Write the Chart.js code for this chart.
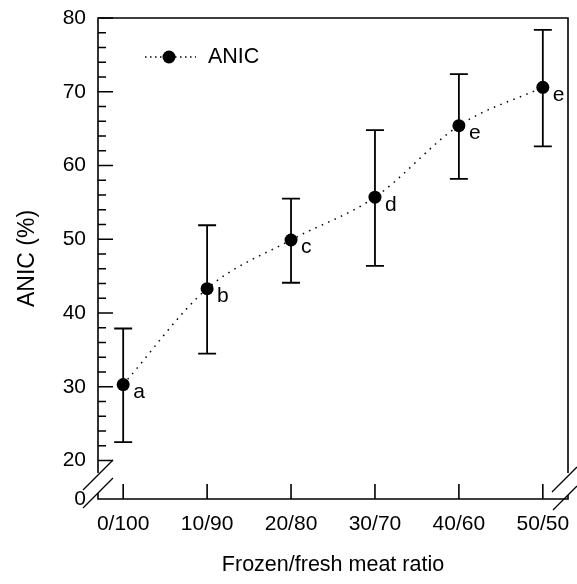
<!DOCTYPE html>
<html><head><meta charset="utf-8">
<script src="https://cdn.jsdelivr.net/npm/chart.js@4.4.0/dist/chart.umd.min.js"></script>
<style>html,body{margin:0;padding:0;background:#fff}#wrap{width:577px;height:584px}</style>
</head><body><div id="wrap"><canvas id="c" width="577" height="584"></canvas></div>
<script>
const categories = ['0/100','10/90','20/80','30/70','40/60','50/50'];
const anicMean = [30.3, 43.3, 49.9, 55.7, 65.4, 70.6];
const anicLow = [22.5, 34.5, 44.1, 46.4, 58.2, 62.6];
const anicHigh = [37.9, 51.9, 55.5, 64.8, 72.4, 78.4];
const groupLetters = ['a','b','c','d','e','e'];
const yTickLabels = [20,30,40,50,60,70,80];
const yMinorTicks = [22,24,26,28,32,34,36,38,42,44,46,48,52,54,56,58,62,64,66,68,72,74,76,78];
const yBreakLabel = '0';
const seriesName = 'ANIC';
const xTitle = 'Frozen/fresh meat ratio';
const yTitle = 'ANIC (%)';

const FONT = "'Liberation Sans', Arial, sans-serif";

const decor = {
  id: 'decor',
  beforeDatasetsDraw(chart) {
    const ctx = chart.ctx, xs = chart.scales.x, ys = chart.scales.y;
    ctx.save();
    ctx.strokeStyle = '#000';
    ctx.lineWidth = 1.8;
    ctx.lineCap = 'butt';
    anicMean.forEach((m, i) => {
      const px = xs.getPixelForValue(i);
      const yt = ys.getPixelForValue(anicHigh[i]);
      const yb = ys.getPixelForValue(anicLow[i]);
      ctx.beginPath();
      ctx.moveTo(px, yt); ctx.lineTo(px, yb);
      ctx.moveTo(px - 9, yt); ctx.lineTo(px + 9, yt);
      ctx.moveTo(px - 9, yb); ctx.lineTo(px + 9, yb);
      ctx.stroke();
    });
    ctx.restore();
  },
  afterDraw(chart) {
    const ctx = chart.ctx, xs = chart.scales.x, ys = chart.scales.y;
    const {left, right, top, bottom} = chart.chartArea;
    ctx.save();
    ctx.strokeStyle = '#000';
    ctx.lineWidth = 1.6;
    ctx.lineCap = 'butt';
    // frame
    ctx.beginPath();
    ctx.moveTo(left, 473); ctx.lineTo(left, top); ctx.lineTo(right, top); ctx.lineTo(right, 473);
    ctx.moveTo(left, 493); ctx.lineTo(left, bottom); ctx.lineTo(right, bottom); ctx.lineTo(right, 495);
    ctx.stroke();
    // y ticks
    ctx.beginPath();
    yTickLabels.forEach(v => { const y = ys.getPixelForValue(v); ctx.moveTo(left, y); ctx.lineTo(left + 15, y); });
    yMinorTicks.forEach(v => { const y = ys.getPixelForValue(v); ctx.moveTo(left, y); ctx.lineTo(left + 8, y); });
    // x ticks
    categories.forEach((c, i) => { const x = xs.getPixelForValue(i); ctx.moveTo(x, bottom); ctx.lineTo(x, bottom - 15); });
    ctx.stroke();
    // breaks
    ctx.lineWidth = 1.3;
    ctx.beginPath();
    ctx.moveTo(83, 490); ctx.lineTo(113, 460);
    ctx.moveTo(83, 508); ctx.lineTo(113, 478);
    ctx.moveTo(552, 492); ctx.lineTo(577, 467);
    ctx.moveTo(553, 510); ctx.lineTo(577, 486);
    ctx.stroke();
    // letters
    ctx.fillStyle = '#000';
    ctx.font = '21px ' + FONT;
    ctx.textAlign = 'left';
    ctx.textBaseline = 'alphabetic';
    groupLetters.forEach((t, i) => {
      const x = xs.getPixelForValue(i), y = ys.getPixelForValue(anicMean[i]);
      ctx.fillText(t, x + 10, y + 13.5);
    });
    // legend
    ctx.lineWidth = 1.5;
    ctx.setLineDash([1.5, 3.5]);
    ctx.beginPath();
    ctx.moveTo(145, 57); ctx.lineTo(196, 57);
    ctx.stroke();
    ctx.setLineDash([]);
    ctx.beginPath();
    ctx.arc(169, 57, 6.5, 0, Math.PI * 2);
    ctx.fill();
    ctx.font = '21.5px ' + FONT;
    ctx.textBaseline = 'middle';
    ctx.fillText(seriesName, 208, 57);
    ctx.restore();
  }
};

new Chart(document.getElementById('c'), {
  type: 'line',
  data: {
    datasets: [{
      label: seriesName,
      data: anicMean.map((v, i) => ({x: i, y: v})),
      borderColor: '#000',
      borderWidth: 1.5,
      borderDash: [1.5, 5.5],
      cubicInterpolationMode: 'monotone',
      pointRadius: 6.5,
      pointBackgroundColor: '#000',
      pointBorderColor: '#000',
      pointBorderWidth: 0,
      fill: false
    }]
  },
  options: {
    responsive: false,
    devicePixelRatio: 1,
    animation: false,
    layout: {autoPadding: false, padding: {left: 0, top: 18, right: 9, bottom: 0}},
    plugins: {legend: {display: false}, tooltip: {enabled: false}},
    scales: {
      x: {
        type: 'linear',
        min: -0.3, max: 5.3,
        afterBuildTicks: s => { s.ticks = categories.map((c, i) => ({value: i})); },
        afterFit: s => { s.height = 85; s.paddingLeft = 0; s.paddingRight = 0; },
        grid: {display: false, drawTicks: false},
        border: {display: false},
        ticks: {
          autoSkip: false, maxRotation: 0, padding: 13,
          color: '#000', font: {family: FONT, size: 21},
          callback: v => categories[v]
        },
        title: {display: true, text: xTitle, color: '#000', font: {family: FONT, size: 21.5}, padding: {top: 0, bottom: 6}}
      },
      y: {
        type: 'linear',
        min: 14.78, max: 80,
        afterBuildTicks: s => { s.ticks = [{value: s.min}].concat(yTickLabels.map(v => ({value: v}))); },
        afterFit: s => { s.width = 98; s.paddingTop = 0; s.paddingBottom = 0; },
        grid: {display: false, drawTicks: false},
        border: {display: false},
        ticks: {
          autoSkip: false, padding: 12,
          color: '#000', font: {family: FONT, size: 21},
          callback: v => (v < 20 ? yBreakLabel : String(v))
        },
        title: {display: true, text: yTitle, color: '#000', font: {family: FONT, size: 23}, padding: {top: 14, bottom: 0}}
      }
    }
  },
  plugins: [decor]
});
</script>
</body></html>
